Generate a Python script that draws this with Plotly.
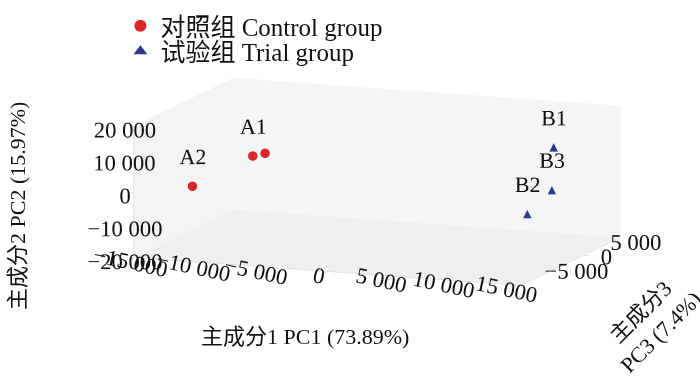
import plotly.graph_objects as go

# PCA scores per sample: PC1, PC2, PC3
control_labels = ["A2", "A1", ""]
control_pc1 = [-11100, -8000, -7400]
control_pc2 = [2300, 9200, 9500]
control_pc3 = [-9800, -6200, -5400]

trial_labels = ["B1", "B3", "B2"]
trial_pc1 = [10900, 10900, 9700]
trial_pc2 = [7600, -5100, -11300]
trial_pc3 = [4500, 4200, 2600]

pc1_ticks = [-15000, -10000, -5000, 0, 5000, 10000, 15000]
pc2_ticks = [-20000, -10000, 0, 10000, 20000]
pc3_ticks = [-5000, 0, 5000]

pc1_range = [-15450, 15450]
pc2_range = [-20000, 20000]
pc3_range = [-10500, 6200]

pc1_title = "主成分1 PC1 (73.89%)"
pc2_title = "主成分2 PC2 (15.97%)"
pc3_title = "主成分3<br>PC3 (7.4%)"


def fmt(v):
    s = f"{abs(v):,}".replace(",", " ")
    return ("\u2212" + s) if v < 0 else s


FONT = "Liberation Serif, Noto Sans CJK SC, serif"
RED = "#d8262a"
NAVY = "#2a3a8c"
INK = "#111111"

fig = go.Figure()

# control group: red dots with sample labels
fig.add_trace(go.Scatter3d(
    x=control_pc1, y=control_pc3, z=control_pc2,
    mode="markers+text", text=control_labels, textposition="top center",
    textfont=dict(family=FONT, size=22, color=INK),
    marker=dict(size=5.5, color=RED, symbol="circle", line=dict(width=0)),
    showlegend=False, hoverinfo="skip",
))

# trial group: navy triangles (scatter3d has no triangle symbol, so a glyph is used)
fig.add_trace(go.Scatter3d(
    x=trial_pc1, y=trial_pc3, z=trial_pc2,
    mode="text", text=["\u25B2"] * len(trial_pc1), textposition="middle center",
    textfont=dict(family="DejaVu Sans", size=11, color=NAVY),
    showlegend=False, hoverinfo="skip",
))
fig.add_trace(go.Scatter3d(
    x=trial_pc1, y=trial_pc3, z=trial_pc2,
    mode="text", text=trial_labels, textposition="top center",
    textfont=dict(family=FONT, size=22, color=INK),
    showlegend=False, hoverinfo="skip",
))

# legend entries, one legend box per row
fig.add_trace(go.Scatter(x=[None], y=[None], mode="markers",
                         marker=dict(symbol="circle", size=9, color=RED),
                         name="对照组 Control group", legend="legend"))
fig.add_trace(go.Scatter(x=[None], y=[None], mode="markers",
                         marker=dict(symbol="triangle-up", size=9, color=NAVY),
                         name="试验组 Trial group", legend="legend2"))

legend_style = dict(x=0.172, xanchor="left", yanchor="top",
                    font=dict(family=FONT, size=25, color=INK), itemsizing="constant",
                    bgcolor="rgba(0,0,0,0)", borderwidth=0)

axis_common = dict(
    showbackground=True,
    showgrid=False, zeroline=False,
    showline=True, linecolor="#d4d4d8", linewidth=1,
    ticks="outside", ticklen=6, tickcolor="#a8a8a8",
    tickfont=dict(family=FONT, size=16.5, color=INK),
    showspikes=False,
    title=dict(text=""),
)
title_font = dict(family=FONT, size=22, color=INK)

fig.update_layout(
    width=700, height=379,
    margin=dict(l=0, r=0, t=0, b=0),
    paper_bgcolor="white", plot_bgcolor="white",
    font=dict(family=FONT, color=INK),
    xaxis=dict(visible=False), yaxis=dict(visible=False),
    legend=dict(legend_style, y=0.992),
    legend2=dict(legend_style, y=0.925),
    scene=dict(
        bgcolor="white",
        domain=dict(x=[0, 1], y=[0, 1]),
        xaxis=dict(axis_common, backgroundcolor="#f3f3f5", range=pc1_range, tickangle=12,
                   tickvals=pc1_ticks, ticktext=[fmt(v) for v in pc1_ticks]),
        yaxis=dict(axis_common, backgroundcolor="#f5f5f6", range=pc3_range, tickangle=0,
                   tickvals=pc3_ticks, ticktext=[fmt(v) for v in pc3_ticks]),
        zaxis=dict(axis_common, backgroundcolor="#eeeff1", range=pc2_range, tickangle=0,
                   tickvals=pc2_ticks, ticktext=[fmt(v) for v in pc2_ticks]),
        aspectmode="manual",
        aspectratio=dict(x=2.193, y=1.459, z=0.707),
        camera=dict(eye=dict(x=0.7227, y=-2.2715, z=0.4092),
                    center=dict(x=-0.1311, y=-0.0588, z=-0.0405),
                    up=dict(x=0, y=0, z=1),
                    projection=dict(type="orthographic")),
    ),
    annotations=[
        dict(text=pc1_title, x=0.436, y=0.113, xref="paper", yref="paper",
             xanchor="center", yanchor="middle", showarrow=False, font=title_font),
        dict(text=pc2_title, x=0.026, y=0.457, xref="paper", yref="paper",
             xanchor="center", yanchor="middle", showarrow=False, font=title_font,
             textangle=-90),
        dict(text=pc3_title, x=0.93, y=0.15, xref="paper", yref="paper",
             xanchor="center", yanchor="middle", showarrow=False, font=title_font,
             textangle=-45),
    ],
)

fig.write_html("out.html")
